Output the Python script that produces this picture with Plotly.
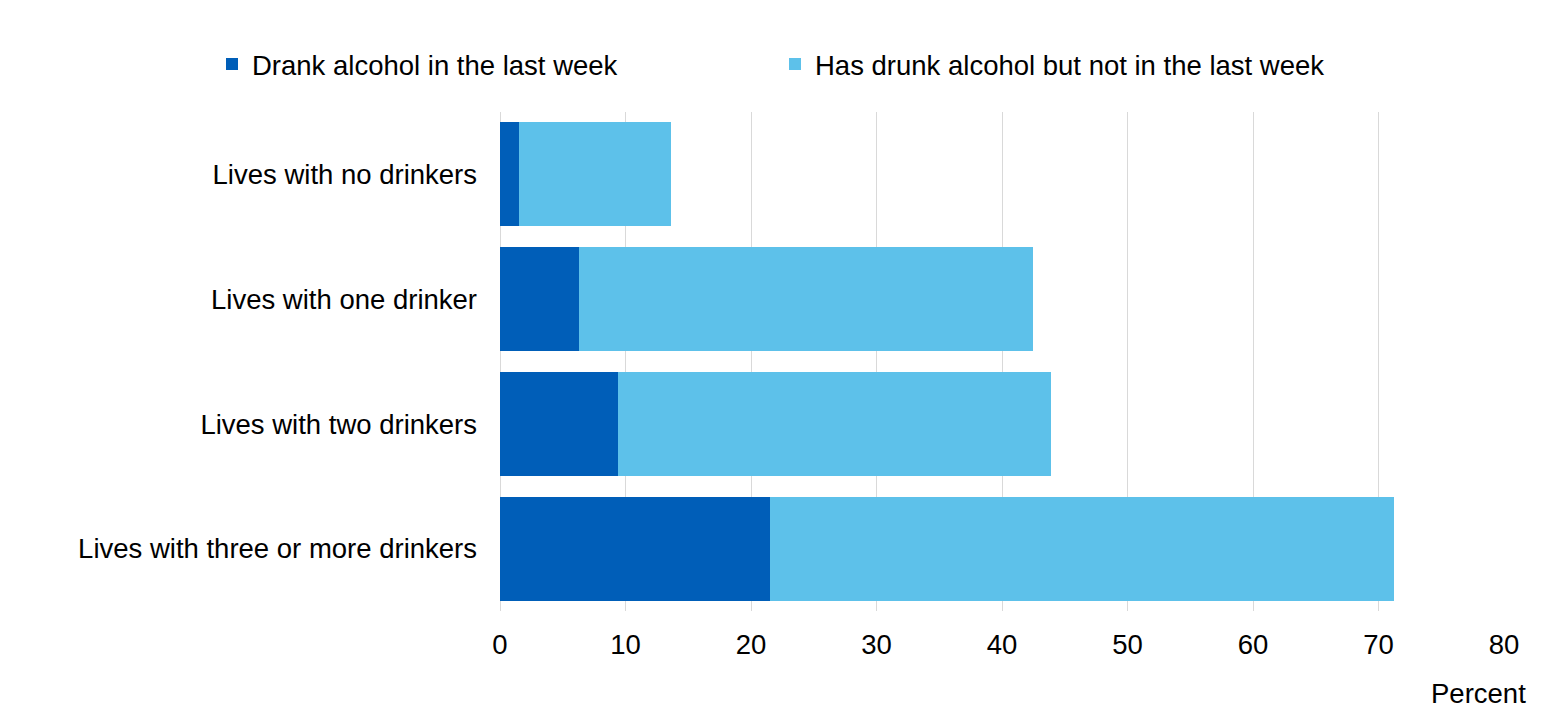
import plotly.graph_objects as go

categories = [
    "Lives with no drinkers",
    "Lives with one drinker",
    "Lives with two drinkers",
    "Lives with three or more drinkers",
]
drank_last_week = [1.5, 6.3, 9.4, 21.5]
drunk_not_last_week = [12.1, 36.2, 34.5, 49.7]
x_ticks = [0, 10, 20, 30, 40, 50, 60, 70, 80]

FONT = "Liberation Sans, Arial, sans-serif"
FS = 27.5

fig = go.Figure()
fig.add_trace(go.Bar(
    y=categories, x=drank_last_week, orientation="h",
    name="Drank alcohol in the last week",
    marker=dict(color="#005EB8", line=dict(width=0)),
    legend="legend",
))
fig.add_trace(go.Bar(
    y=categories, x=drunk_not_last_week, orientation="h",
    name="Has drunk alcohol but not in the last week",
    marker=dict(color="#5DC1EA", line=dict(width=0)),
    legend="legend2",
))

legend_common = dict(
    orientation="h", xref="container", yref="container",
    xanchor="left", yanchor="middle",
    font=dict(family=FONT, size=FS, color="#000000"),
    itemclick=False, bgcolor="rgba(0,0,0,0)",
)

fig.update_layout(
    width=1559, height=715,
    barmode="stack", bargap=0.166,
    plot_bgcolor="white", paper_bgcolor="white",
    margin=dict(l=500, r=55, t=112, b=104, autoexpand=False),
    font=dict(family=FONT, size=FS, color="#000000"),
    showlegend=True,
    legend=dict(x=212 / 1559, y=1 - 64 / 715, **legend_common),
    legend2=dict(x=775 / 1559, y=1 - 64 / 715, **legend_common),
    xaxis=dict(
        range=[0, 80], tickvals=x_ticks, showgrid=True,
        gridcolor="#D9D9D9", gridwidth=1, zeroline=True,
        zerolinecolor="#D9D9D9", zerolinewidth=1, showline=False,
        ticks="", ticklabelstandoff=14,
        tickfont=dict(family=FONT, size=FS, color="#000000"),
    ),
    yaxis=dict(
        autorange="reversed", showgrid=False, showline=False,
        ticks="", ticklabelstandoff=22,
        tickfont=dict(family=FONT, size=FS, color="#000000"),
    ),
    annotations=[dict(
        text="Percent", xref="paper", yref="paper",
        x=1.0243, y=-0.166, xanchor="right", yanchor="middle",
        showarrow=False, font=dict(family=FONT, size=FS, color="#000000"),
    )],
)

fig.write_html("out.html")
